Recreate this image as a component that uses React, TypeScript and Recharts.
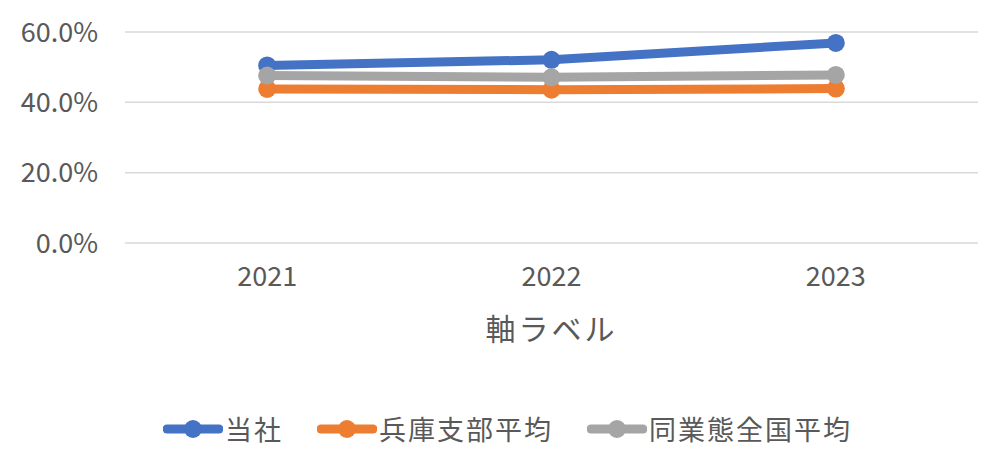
import { LineChart, Line, CartesianGrid, XAxis, YAxis, Legend } from "recharts";

const years = ["2021", "2022", "2023"];
const tosha = [0.505, 0.521, 0.569];
const hyogo = [0.438, 0.436, 0.439];
const zenkoku = [0.476, 0.471, 0.478];
const yTicks = [0, 0.2, 0.4, 0.6];

const series = [
  { key: "当社", values: tosha, color: "#4472C4" },
  { key: "兵庫支部平均", values: hyogo, color: "#ED7D31" },
  { key: "同業態全国平均", values: zenkoku, color: "#A5A5A5" },
];

const data = years.map((year, i) => {
  const row: any = { year };
  series.forEach((s) => {
    row[s.key] = s.values[i];
  });
  return row;
});

const font = '"Noto Sans CJK JP", "Noto Sans", sans-serif';
const textColor = "#595959";

function LegendContent() {
  return (
    <div style={{ height: 0, position: "relative" }}>
      <div
        style={{
          position: "absolute",
          left: 163,
          top: 0,
          display: "flex",
          alignItems: "center",
          fontFamily: font,
          fontSize: 27,
          color: textColor,
          letterSpacing: 2,
          whiteSpace: "nowrap",
        }}
      >
        {series.map((s) => (
          <div
            key={s.key}
            style={{ display: "flex", alignItems: "center", marginRight: 34 }}
          >
            <svg width={60} height={22} style={{ marginRight: 2 }}>
              <line x1={4} y1={11} x2={56} y2={11} stroke={s.color} strokeWidth={9} strokeLinecap="round" />
              <circle cx={30} cy={11} r={9} fill={s.color} />
            </svg>
            <span>{s.key}</span>
          </div>
        ))}
      </div>
    </div>
  );
}

export default function App() {
  return (
    <div style={{ width: 1007, height: 464, background: "#fff" }}>
      <style>{`body{margin:0}`}</style>
      <LineChart
        width={1007}
        height={464}
        data={data}
        margin={{ top: 32, right: 29, left: 0, bottom: 0 }}
      >
        <CartesianGrid vertical={false} stroke="#d9d9d9" strokeWidth={1.5} />
        <XAxis
          dataKey="year"
          scale="band"
          height={221}
          axisLine={false}
          tickLine={false}
          tickSize={0}
          tickMargin={24}
          tick={{ fontSize: 27, fill: textColor, fontFamily: font }}
          label={{
            value: "軸ラベル",
            position: "insideTop",
            offset: 76,
            fontSize: 30,
            fill: textColor,
            fontFamily: font,
            letterSpacing: 3,
          }}
        />
        <YAxis
          width={125}
          domain={[0, 0.6]}
          ticks={yTicks}
          axisLine={false}
          tickLine={false}
          tickSize={0}
          tickMargin={27}
          tickFormatter={(v: number) => `${(v * 100).toFixed(1)}%`}
          tick={{ fontSize: 27, fill: textColor, fontFamily: font }}
        />
        <Legend
          content={<LegendContent />}
          wrapperStyle={{ top: 409, left: 0, width: 1007 }}
        />
        {series.map((s) => (
          <Line
            key={s.key}
            type="linear"
            dataKey={s.key}
            stroke={s.color}
            strokeWidth={9}
            dot={{ r: 9, fill: s.color, stroke: "none" }}
            activeDot={false}
            isAnimationActive={false}
          />
        ))}
      </LineChart>
    </div>
  );
}
